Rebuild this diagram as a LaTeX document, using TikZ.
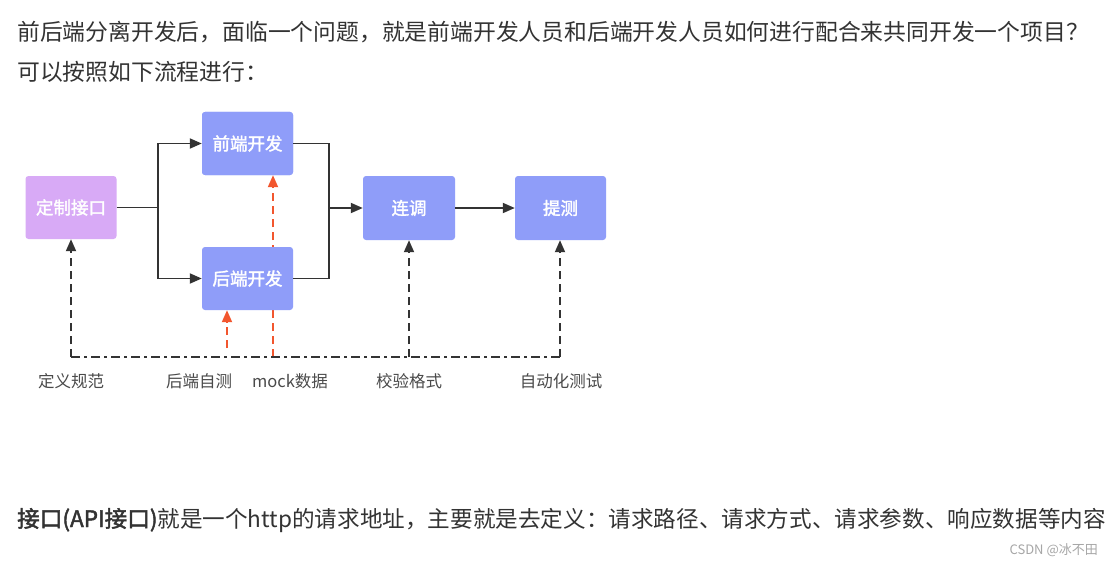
\documentclass[tikz,border=0pt]{standalone}
\usepackage{fontspec}
\setmainfont{Noto Sans CJK SC}[AutoFakeBold=2]
\usetikzlibrary{arrows.meta}
\definecolor{txt}{HTML}{333333}
\definecolor{boxblue}{HTML}{8F9DF9}
\definecolor{boxpurple}{HTML}{D8AAF6}
\definecolor{lab}{HTML}{4A4A4A}
\definecolor{redline}{HTML}{F2562E}
\definecolor{conn}{HTML}{333333}
\tikzset{
  procbox/.style={rectangle, rounded corners=3pt, fill=boxblue, draw=none, text=white,
    minimum width=91pt, minimum height=63pt, inner sep=0pt,
    font=\fontsize{17.5}{20}\selectfont\bfseries},
  flow/.style={draw=conn, line width=1.8pt, -{Triangle[length=12pt,width=10pt]}},
  flowline/.style={draw=conn, line width=1.8pt},
  dashup/.style={draw=conn, line width=1.8pt, dash pattern=on 8pt off 5pt, -{Triangle[length=12pt,width=10pt]}},
  reddash/.style={draw=redline, line width=1.8pt, dash pattern=on 8pt off 5pt, -{Triangle[length=12pt,width=10pt]}},
  dashdot/.style={draw=conn, line width=1.8pt, dash pattern=on 9pt off 4pt on 3pt off 4pt},
  labtext/.style={text=lab, font=\fontsize{16.5}{18}\selectfont, inner sep=0pt},
  bodytext/.style={text=txt, font=\fontsize{22.8}{26}\selectfont, inner sep=0pt, anchor=west}
}
\begin{document}
\begin{tikzpicture}[x=1pt,y=-1pt]
\useasboundingbox (0,0) rectangle (1110,567);
\fill[white] (0,0) rectangle (1110,567);

% body text
\node[bodytext] (t1) at (17,32) {前后端分离开发后，面临一个问题，就是前端开发人员和后端开发人员如何进行配合来共同开发一个项目？};
\node[bodytext] (t2) at (17,72) {可以按照如下流程进行：};
\node[bodytext, font=\fontsize{22.6}{26}\selectfont] (t3) at (17,520) {\bfseries 接口(API接口)\mdseries 就是一个http的请求地址，主要就是去定义：请求路径、请求方式、请求参数、响应数据等内容};
\node[text=black!35, font=\fontsize{13}{15}\selectfont, inner sep=0pt, anchor=east] (wm) at (1098,550) {CSDN @冰不田};

% coordinates for the bus
\coordinate (b1) at (71,357);
\coordinate (b2) at (409,357);
\coordinate (b3) at (560,357);
\coordinate (rb) at (273,357);
\coordinate (rs) at (227,348);

% red mock line (behind boxes)
\node[procbox] (fe) at (247.5,143.5) {};
\draw[reddash] (rb) -- (fe.south -| rb);

% boxes
\node[procbox, fill=boxpurple] (api) at (71,207.5) {定制接口};
\node[procbox] (fe) at (247.5,143.5) {前端开发};
\node[procbox] (be) at (247.5,278.5) {后端开发};
\node[procbox, minimum width=92pt, minimum height=64pt] (lt) at (409,208) {连调};
\node[procbox, minimum height=64pt] (tc) at (560.5,208) {提测};

% flow connectors
\coordinate (s1) at (158,207.5);
\draw[flowline] (api.east) -- (s1);
\draw[flow] (s1) |- (fe.west);
\draw[flow] (s1) |- (be.west);
\coordinate (m1) at (329,208);
\draw[flowline] (fe.east) -| (m1);
\draw[flowline] (be.east) -| (m1);
\draw[flow] (m1) -- (lt.west);
\draw[flow] (lt.east) -- (tc.west);

% bus
\draw[dashdot] (b1) -- (b3);
\draw[dashup] (b1) -- (api.south);
\draw[dashup] (b2) -- (lt.south);
\draw[dashup] (b3) -- (tc.south -| b3);
\draw[reddash] (rs) -- (be.south -| rs);

% labels
\node[labtext] (l1) at (71,381) {定义规范};
\node[labtext] (l2) at (199,381) {后端自测};
\node[labtext] (l3) at (290,381) {mock数据};
\node[labtext] (l4) at (409,381) {校验格式};
\node[labtext] (l5) at (561,381) {自动化测试};
\end{tikzpicture}
\end{document}
